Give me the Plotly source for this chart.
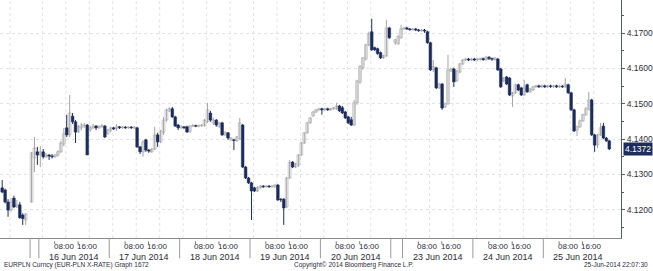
import plotly.graph_objects as go

# ---------------- data (hourly EURPLN candles, slots without trading = None) -------------
day_labels = ["13 Jun 2014", "15 Jun 2014", "16 Jun 2014", "17 Jun 2014", "18 Jun 2014",
              "19 Jun 2014", "20 Jun 2014", "22 Jun 2014", "23 Jun 2014", "24 Jun 2014",
              "25 Jun 2014"]
day_first_hour = [14, 21, 0, 0, 0, 0, 0, 20, 0, 0, 0]
day_slots = [10, 3, 24, 24, 24, 24, 24, 4, 24, 24, 23]
day_show_label = [False, False, True, True, True, True, True, False, True, True, True]

open_ = [
 4.1262,4.1256,4.1222,4.1199,4.1233,4.1208,4.1214,4.1185,4.1171,None,
 4.1222,4.1347,4.1364,
 4.1355,4.1364,4.1350,4.1355,4.1352,4.1350,4.1355,4.1364,4.1386,4.1432,4.1412,4.1465,4.1449,4.1420,4.1432,4.1438,4.1440,4.1426,4.1432,4.1437,4.1432,4.1435,4.1437,4.1415,
 4.1426,4.1432,4.1429,4.1435,4.1432,4.1434,4.1432,4.1434,4.1432,4.1432,4.1378,4.1364,4.1398,4.1369,4.1364,4.1372,4.1412,4.1392,4.1418,4.1454,4.1480,4.1486,4.1463,4.1440,
 4.1432,4.1435,4.1435,4.1422,4.1437,4.1438,4.1437,4.1438,4.1438,4.1449,4.1474,4.1446,4.1454,4.1435,4.1446,4.1412,4.1418,4.1398,4.1398,4.1396,4.1401,4.1440,4.1321,4.1290,
 4.1276,4.1262,4.1253,4.1262,4.1267,4.1265,4.1267,4.1265,4.1265,4.1270,4.1230,4.1230,4.1208,4.1290,4.1335,4.1321,4.1327,4.1355,4.1389,4.1418,4.1446,4.1466,4.1477,4.1483,
 4.1486,4.1483,4.1486,4.1483,4.1486,4.1486,4.1494,4.1489,4.1477,4.1463,4.1455,4.1440,4.1503,4.1562,4.1602,4.1627,4.1667,4.1704,4.1659,4.1656,4.1645,4.1630,4.1636,4.1715,
 None,4.1673,4.1670,4.1687,
 4.1712,4.1715,4.1712,4.1710,4.1712,4.1709,4.1707,4.1709,4.1704,4.1673,4.1596,4.1602,4.1545,4.1556,4.1491,4.1500,4.1593,4.1599,4.1565,4.1590,4.1613,4.1624,4.1627,4.1624,
 4.1627,4.1624,4.1626,4.1628,4.1625,4.1632,4.1628,4.1626,4.1627,4.1599,4.1565,4.1576,4.1573,4.1522,4.1531,4.1554,4.1545,4.1525,4.1554,4.1534,4.1539,4.1548,4.1551,4.1548,
 4.1551,4.1548,4.1551,4.1549,4.1551,4.1548,4.1550,4.1548,4.1554,4.1531,4.1483,4.1426,4.1435,4.1452,4.1469,4.1483,4.1511,4.1412,4.1383,4.1412,4.1437,4.1403,4.1395,
]
high = [
 4.1284,4.1260,4.1230,4.1233,4.1240,4.1228,4.1222,4.1190,4.1191,None,
 4.1364,4.1406,4.1378,
 4.1381,4.1372,4.1361,4.1358,4.1358,4.1358,4.1369,4.1395,4.1432,4.1469,4.1525,4.1474,4.1454,4.1440,4.1446,4.1446,4.1443,4.1438,4.1443,4.1440,4.1440,4.1443,4.1440,4.1429,
 4.1435,4.1435,4.1443,4.1437,4.1437,4.1437,4.1437,4.1437,4.1437,4.1435,4.1381,4.1398,4.1401,4.1372,4.1375,4.1435,4.1418,4.1426,4.1463,4.1486,4.1491,4.1491,4.1466,4.1443,
 4.1440,4.1437,4.1438,4.1440,4.1443,4.1441,4.1441,4.1443,4.1457,4.1503,4.1480,4.1460,4.1457,4.1449,4.1449,4.1423,4.1420,4.1406,4.1401,4.1409,4.1460,4.1443,4.1324,4.1293,
 4.1279,4.1265,4.1267,4.1270,4.1270,4.1270,4.1270,4.1270,4.1273,4.1273,4.1233,4.1233,4.1293,4.1341,4.1338,4.1333,4.1358,4.1392,4.1420,4.1449,4.1463,4.1480,4.1486,4.1489,
 4.1489,4.1489,4.1489,4.1489,4.1491,4.1503,4.1497,4.1494,4.1480,4.1466,4.1463,4.1511,4.1568,4.1610,4.1633,4.1670,4.1704,4.1741,4.1662,4.1659,4.1648,4.1639,4.1738,4.1718,
 None,4.1684,4.1695,4.1724,
 4.1718,4.1718,4.1715,4.1715,4.1715,4.1712,4.1712,4.1712,4.1707,4.1676,4.1624,4.1605,4.1559,4.1559,4.1503,4.1639,4.1602,4.1602,4.1596,4.1616,4.1627,4.1630,4.1630,4.1630,
 4.1630,4.1630,4.1631,4.1631,4.1636,4.1635,4.1631,4.1633,4.1630,4.1602,4.1576,4.1579,4.1576,4.1534,4.1557,4.1557,4.1548,4.1568,4.1557,4.1545,4.1551,4.1554,4.1554,4.1554,
 4.1554,4.1554,4.1554,4.1554,4.1554,4.1554,4.1553,4.1573,4.1557,4.1534,4.1486,4.1438,4.1455,4.1472,4.1491,4.1534,4.1514,4.1415,4.1415,4.1446,4.1446,4.1406,4.1398,
]
low = [
 4.1247,4.1218,4.1180,4.1195,4.1205,4.1205,4.1175,4.1157,4.1157,None,
 4.1220,4.1307,4.1327,
 4.1321,4.1345,4.1347,4.1341,4.1345,4.1347,4.1350,4.1361,4.1380,4.1406,4.1406,4.1443,4.1389,4.1418,4.1426,4.1432,4.1355,4.1420,4.1429,4.1426,4.1429,4.1432,4.1403,4.1412,
 4.1420,4.1426,4.1423,4.1429,4.1429,4.1429,4.1429,4.1429,4.1429,4.1375,4.1358,4.1350,4.1364,4.1361,4.1361,4.1369,4.1378,4.1389,4.1412,4.1449,4.1477,4.1460,4.1435,4.1426,
 4.1429,4.1429,4.1418,4.1418,4.1434,4.1434,4.1434,4.1435,4.1435,4.1446,4.1449,4.1440,4.1435,4.1432,4.1409,4.1409,4.1398,4.1395,4.1369,4.1392,4.1398,4.1318,4.1287,4.1273,
 4.1171,4.1250,4.1250,4.1259,4.1262,4.1262,4.1262,4.1262,4.1262,4.1225,4.1222,4.1157,4.1205,4.1287,4.1318,4.1318,4.1321,4.1352,4.1386,4.1415,4.1443,4.1463,4.1474,4.1480,
 4.1469,4.1480,4.1480,4.1480,4.1483,4.1483,4.1477,4.1471,4.1457,4.1443,4.1437,4.1437,4.1497,4.1556,4.1596,4.1623,4.1663,4.1650,4.1650,4.1639,4.1627,4.1627,4.1633,4.1684,
 None,4.1667,4.1667,4.1684,
 4.1709,4.1709,4.1707,4.1707,4.1706,4.1704,4.1704,4.1701,4.1670,4.1593,4.1590,4.1542,4.1542,4.1483,4.1488,4.1497,4.1590,4.1548,4.1562,4.1587,4.1610,4.1621,4.1621,4.1621,
 4.1621,4.1621,4.1622,4.1622,4.1622,4.1624,4.1622,4.1622,4.1593,4.1545,4.1562,4.1553,4.1522,4.1491,4.1528,4.1536,4.1522,4.1522,4.1531,4.1531,4.1536,4.1545,4.1545,4.1545,
 4.1545,4.1545,4.1545,4.1545,4.1545,4.1545,4.1545,4.1545,4.1528,4.1480,4.1420,4.1409,4.1432,4.1449,4.1466,4.1483,4.1409,4.1364,4.1375,4.1409,4.1400,4.1392,4.1369,
]
close = [
 4.1250,4.1222,4.1199,4.1222,4.1208,4.1214,4.1177,4.1175,4.1188,None,
 4.1361,4.1375,4.1355,
 4.1364,4.1350,4.1355,4.1352,4.1350,4.1355,4.1364,4.1389,4.1415,4.1412,4.1474,4.1449,4.1420,4.1435,4.1440,4.1440,4.1355,4.1432,4.1437,4.1432,4.1435,4.1438,4.1406,4.1426,
 4.1432,4.1429,4.1435,4.1432,4.1434,4.1432,4.1434,4.1432,4.1434,4.1378,4.1364,4.1392,4.1369,4.1366,4.1372,4.1412,4.1392,4.1423,4.1454,4.1483,4.1486,4.1463,4.1437,4.1432,
 4.1435,4.1432,4.1420,4.1437,4.1438,4.1437,4.1438,4.1440,4.1454,4.1483,4.1454,4.1454,4.1440,4.1446,4.1412,4.1418,4.1403,4.1403,4.1396,4.1406,4.1446,4.1321,4.1290,4.1276,
 4.1253,4.1253,4.1262,4.1267,4.1265,4.1267,4.1265,4.1267,4.1270,4.1228,4.1228,4.1205,4.1290,4.1335,4.1321,4.1330,4.1355,4.1389,4.1418,4.1446,4.1460,4.1477,4.1483,4.1486,
 4.1483,4.1486,4.1483,4.1486,4.1489,4.1494,4.1480,4.1474,4.1460,4.1446,4.1440,4.1503,4.1565,4.1605,4.1630,4.1667,4.1698,4.1653,4.1653,4.1642,4.1630,4.1636,4.1715,4.1687,
 None,4.1681,4.1690,4.1712,
 4.1715,4.1712,4.1710,4.1712,4.1709,4.1707,4.1709,4.1706,4.1673,4.1596,4.1605,4.1545,4.1556,4.1488,4.1500,4.1596,4.1599,4.1562,4.1593,4.1613,4.1624,4.1627,4.1624,4.1627,
 4.1624,4.1627,4.1628,4.1625,4.1632,4.1628,4.1626,4.1630,4.1596,4.1548,4.1573,4.1556,4.1525,4.1531,4.1554,4.1539,4.1525,4.1545,4.1534,4.1542,4.1548,4.1551,4.1548,4.1551,
 4.1548,4.1551,4.1549,4.1551,4.1548,4.1550,4.1548,4.1556,4.1531,4.1483,4.1423,4.1435,4.1452,4.1469,4.1486,4.1511,4.1412,4.1383,4.1412,4.1432,4.1403,4.1395,4.1372,
]

y_ticks = [4.12, 4.13, 4.14, 4.15, 4.16, 4.17]
y_minor = [4.115, 4.125, 4.135, 4.145, 4.155, 4.165, 4.175]
y_range = [4.1120, 4.1794]
last_price_text = "4.1372"
footer_left = "EURPLN Curncy (EUR-PLN X-RATE) Graph 1672"
footer_mid = "Copyright\u00a9 2014 Bloomberg Finance L.P."
footer_right = "25-Jun-2014 22:07:30"

# ---------------- styles -----------------------------------------------------
NAVY = "#1d2c5c"
UPLINE = "#a6a6a6"
GRID = "#e0e3e8"
TXT = "#2b2b3a"
FONT = "Liberation Sans"
MIN_BODY = 0.00018
GRID_SHIFT = 1.2  # grid lines sit slightly right of the day separators in the original

# ---------------- build candles ---------------------------------------------
up = dict(x=[], base=[], h=[], wx=[], wy=[])
dn = dict(x=[], base=[], h=[], wx=[], wy=[])
last_close = None
for k in range(len(open_)):
    if open_[k] is None:
        continue
    o, hi, lo, c = open_[k], high[k], low[k], close[k]
    g = up if c >= o else dn
    bot, top = min(o, c), max(o, c)
    if top - bot < MIN_BODY:
        mid = (top + bot) / 2
        bot, top = mid - MIN_BODY / 2, mid + MIN_BODY / 2
    g["x"].append(k); g["base"].append(bot); g["h"].append(top - bot)
    g["wx"] += [k, k, None]; g["wy"] += [lo, hi, None]
    last_close = c

day_start, day_lo, day_hi = [], [], []
pos = 0
for fh, n in zip(day_first_hour, day_slots):
    day_start.append(pos - fh - 0.5)
    day_lo.append(pos - 0.5)
    day_hi.append(pos + n - 0.5)
    pos += n
x_range = [-0.75, 211.0]

fig = go.Figure()
fig.add_trace(go.Scatter(x=up["wx"], y=up["wy"], mode="lines", line=dict(color=UPLINE, width=1),
                         hoverinfo="skip", showlegend=False))
fig.add_trace(go.Scatter(x=dn["wx"], y=dn["wy"], mode="lines", line=dict(color=NAVY, width=1),
                         hoverinfo="skip", showlegend=False))
fig.add_trace(go.Bar(x=up["x"], y=up["h"], base=up["base"], width=0.95,
                     marker=dict(color="#ffffff", line=dict(color=UPLINE, width=0.6)),
                     hoverinfo="skip", showlegend=False))
fig.add_trace(go.Bar(x=dn["x"], y=dn["h"], base=dn["base"], width=0.92,
                     marker=dict(color=NAVY, line=dict(color=NAVY, width=0.5)),
                     hoverinfo="skip", showlegend=False))

shapes = []
annotations = []
# vertical dotted grid at 00:00, 08:00, 16:00 (only inside each day's slots)
for ds, lo_, hi_, lab in zip(day_start, day_lo, day_hi, day_labels):
    full = (hi_ - lo_) >= 23
    for hh in (0, 8, 16):
        gx = ds + hh
        if full or (lo_ < gx < hi_):
            gx += GRID_SHIFT
            if x_range[0] < gx < x_range[1]:
                shapes.append(dict(type="line", xref="x", yref="paper", x0=gx, x1=gx, y0=0, y1=1,
                                   line=dict(color=GRID, width=1, dash="dot"), layer="below"))

# day separators in the axis band
for sx in day_lo[1:]:
    shapes.append(dict(type="line", xref="x", yref="paper", x0=sx, x1=sx, y0=0, y1=-0.085,
                       line=dict(color="#9a9a9a", width=1)))

for ds, lab, show in zip(day_start, day_labels, day_show_label):
    if not show:
        continue
    for hh, t in ((8, "08:00"), (16, "16:00")):
        annotations.append(dict(x=ds + hh + 0.6, y=-0.01, xref="x", yref="paper", text=t,
                                showarrow=False, yanchor="top", xanchor="center",
                                font=dict(family=FONT, size=8, color=TXT)))
        shapes.append(dict(type="line", xref="x", yref="paper", x0=ds + hh - 2.6, x1=ds + hh - 2.6,
                           y0=-0.014, y1=-0.026, line=dict(color="#777", width=1)))
    annotations.append(dict(x=ds + 12, y=-0.05, xref="x", yref="paper", text=lab,
                            showarrow=False, yanchor="top", xanchor="center",
                            font=dict(family=FONT, size=9, color=TXT)))

annotations += [
    dict(x=0.003, y=-0.113, xref="paper", yref="paper", text=footer_left, showarrow=False,
         xanchor="left", yanchor="middle", font=dict(family=FONT, size=6.5, color=TXT)),
    dict(x=0.57, y=-0.113, xref="paper", yref="paper", text=footer_mid, showarrow=False,
         xanchor="center", yanchor="middle", font=dict(family=FONT, size=6.5, color=TXT)),
    dict(x=1.047, y=-0.113, xref="paper", yref="paper", text=footer_right, showarrow=False,
         xanchor="right", yanchor="middle", font=dict(family=FONT, size=6.5, color=TXT)),
]

annotations.append(dict(x=1.0, y=last_close, xref="paper", yref="y", text=last_price_text,
                        showarrow=False, xanchor="left", yanchor="middle", xshift=2,
                        bgcolor=NAVY, borderpad=1,
                        font=dict(family=FONT, size=8.5, color="#ffffff")))

fig.update_layout(
    width=653, height=271,
    margin=dict(l=0, r=30, t=0, b=33),
    paper_bgcolor="#ffffff", plot_bgcolor="#ffffff",
    shapes=shapes, annotations=annotations, barmode="overlay",
    xaxis=dict(range=x_range, showgrid=False, showticklabels=False, zeroline=False,
               showline=True, linecolor="#8a8a8a", linewidth=1, fixedrange=True),
    yaxis=dict(range=y_range, side="right", tickvals=y_ticks, tickformat=".4f",
               showgrid=True, gridcolor=GRID, griddash="dot", gridwidth=1,
               showline=True, linecolor="#555a66", linewidth=1,
               ticks="outside", ticklen=3, tickcolor="#555a66",
               minor=dict(tickvals=y_minor, ticks="outside", ticklen=2, tickcolor="#555a66"),
               tickfont=dict(family=FONT, size=8.5, color=TXT),
               zeroline=False, fixedrange=True),
)

fig.write_html("out.html")
